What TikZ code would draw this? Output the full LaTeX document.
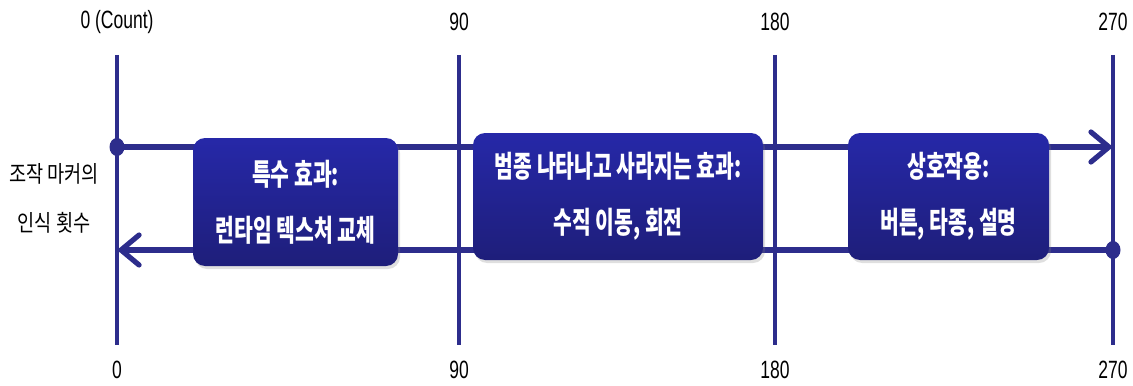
\documentclass[tikz,border=0pt]{standalone}
\usepackage{fontspec}
\newfontfamily\krbox[FakeStretch=0.68]{Noto Sans CJK KR}
\newfontfamily\krside[FakeStretch=0.81]{Noto Sans CJK KR}
\newfontfamily\numfont[FakeStretch=0.7]{Liberation Sans}
\usetikzlibrary{arrows.meta,shadows}
\definecolor{linenavy}{RGB}{45,45,140}
\definecolor{boxtop}{RGB}{38,40,168}
\definecolor{boxbot}{RGB}{30,30,122}
\tikzset{
  axis/.style={draw=linenavy,line width=2.2pt},
  flow/.style={draw=linenavy,line width=2.6pt,-{Straight Barb[length=9pt,width=15pt,line cap=round]}},
  stage/.style={rectangle,rounded corners=6pt,top color=boxtop,bottom color=boxbot,
    text=white,font=\krbox\bfseries\fontsize{15}{28}\selectfont,align=center,inner sep=0pt,
    drop shadow={opacity=0.25,shadow xshift=1pt,shadow yshift=-1.5pt}},
  tick/.style={font=\numfont\fontsize{12.5}{14}\selectfont,inner sep=0pt},
  dot/.style={ellipse,fill=linenavy,inner sep=0pt,minimum width=7.5pt,minimum height=9pt}
}
\usetikzlibrary{shapes.geometric}
\begin{document}
\begin{tikzpicture}[x=0.5pt,y=-0.5pt]
    \useasboundingbox (0,0) rectangle (1133,385);
    \foreach \v/\x/\lab in {0/117/0 (Count),90/459/90,180/775/180,270/1113/270} {
      \node[tick] (t\v) at (\x,22) {\lab};
      \node[tick] (b\v) at (\x,370) {\v};
      \coordinate (top\v) at (\x,55);
      \coordinate (bot\v) at (\x,345);
      \draw[axis] (top\v) -- (bot\v);
    }
    \node[font=\krside\fontsize{11.5}{24.5}\selectfont,align=center] (side) at (54,198) {조작 마커의\\인식 횟수};
    \node[dot] (start) at (117,147) {};
    \coordinate (finish) at (1113,147);
    \node[dot] (back) at (1113,250) {};
    \coordinate (home) at (117,250);
    \draw[flow] (start.center) -- (finish);
    \draw[flow] (back.center) -- (home);
    \node[stage,minimum width=102.5pt,minimum height=64pt] (fx) at (295.5,202) {특수 효과:\\런타임 텍스처 교체};
    \node[stage,minimum width=145pt,minimum height=63.5pt] (fade) at (618,196.5) {범종 나타나고 사라지는 효과:\\수직 이동, 회전};
    \node[stage,minimum width=100.5pt,minimum height=63.5pt] (act) at (948.5,196.5) {상호작용:\\버튼, 타종, 설명};
  \end{tikzpicture}
\end{document}
